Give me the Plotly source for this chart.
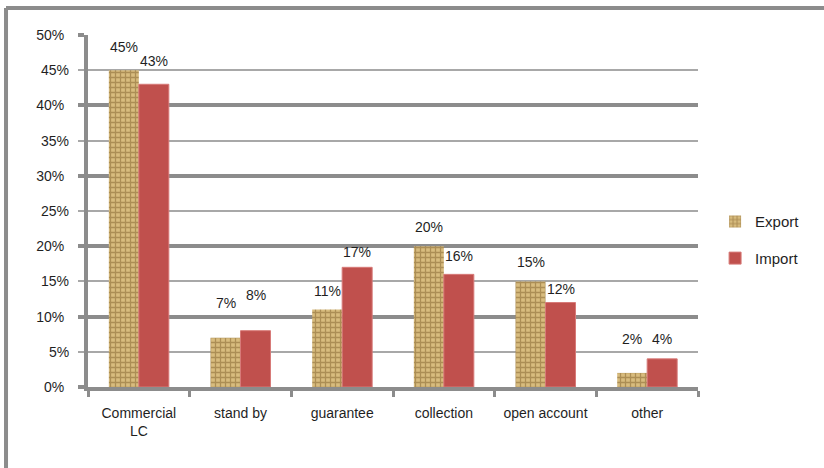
import plotly.graph_objects as go

# Share of trade finance instruments, export vs import
categories = ["Commercial<br>LC", "stand by", "guarantee", "collection", "open account", "other"]
export_share = [45, 7, 11, 20, 15, 2]
import_share = [43, 8, 17, 16, 12, 4]
y_ticks = [0, 5, 10, 15, 20, 25, 30, 35, 40, 45, 50]

# pixel lift of each value label above its bar top
export_label_lift = [23, 35, 19, 19, 19, 34]
import_label_lift = [23, 36, 15, 18, 14, 20]

FONT = "Liberation Sans Narrow, Arial Narrow, Liberation Sans, Arial, sans-serif"
GRID_DARK = "#8c8c8c"
GRID_LIGHT = "#a8a8a8"
TEXT = "#1f1f1f"
FS = 14

fig = go.Figure()

fig.add_trace(go.Bar(
    name="Export",
    x=categories,
    y=export_share,
    legendgroup="export",
    marker=dict(
        color="#d8bc7e",
        line=dict(width=0),
        pattern=dict(shape="+", fgcolor="#7f5f2c", size=5, solidity=0.45),
    ),
))
fig.add_trace(go.Bar(
    name="Import",
    x=categories,
    y=import_share,
    legendgroup="import",
    marker=dict(color="#c0504d", line=dict(color="#d77a78", width=1)),
))

# value labels above each bar
for i, cat in enumerate(categories):
    fig.add_annotation(x=cat, y=export_share[i], xref="x", yref="y",
                       text=f"{export_share[i]}%", showarrow=False,
                       xshift=-15, yshift=export_label_lift[i],
                       font=dict(family=FONT, size=FS, color=TEXT))
    fig.add_annotation(x=cat, y=import_share[i], xref="x", yref="y",
                       text=f"{import_share[i]}%", showarrow=False,
                       xshift=15, yshift=import_label_lift[i],
                       font=dict(family=FONT, size=FS, color=TEXT))

# outer frame: top and left edges
frame = dict(color=GRID_DARK, width=4)
fig.add_shape(type="line", xref="paper", yref="paper",
              x0=-0.1344, x1=1.21, y0=1.0767, y1=1.0767, line=frame)
fig.add_shape(type="line", xref="paper", yref="paper",
              x0=-0.1344, x1=-0.1344, y0=1.0767, y1=-0.24, line=frame)

fig.update_layout(
    width=824, height=468,
    margin=dict(l=88, r=126, t=35, b=81, autoexpand=False),
    paper_bgcolor="white",
    plot_bgcolor="white",
    barmode="group",
    bargap=0.41,
    bargroupgap=0,
    font=dict(family=FONT, size=FS, color=TEXT),
    showlegend=True,
    legend=dict(
        x=1.028, y=0.418, xanchor="left", yanchor="middle",
        font=dict(family=FONT, size=15, color=TEXT),
        tracegroupgap=14,
        bgcolor="rgba(0,0,0,0)",
    ),
    xaxis=dict(
        type="category",
        automargin=False,
        tickangle=0,
        showline=True, linecolor=GRID_DARK, linewidth=4,
        ticks="outside", tickson="boundaries", ticklen=6, tickwidth=3,
        tickcolor=GRID_DARK,
        showgrid=False,
        ticklabelstandoff=10,
        tickfont=dict(family=FONT, size=FS, color=TEXT),
    ),
    yaxis=dict(
        range=[0, 50],
        automargin=False,
        tickvals=[v for v in y_ticks if v % 10 == 0],
        ticktext=[f"{v}%" for v in y_ticks if v % 10 == 0],
        showline=True, linecolor=GRID_DARK, linewidth=4,
        ticks="outside", ticklen=6, tickwidth=4, tickcolor=GRID_DARK,
        showgrid=True, gridcolor=GRID_DARK, gridwidth=3.5,
        zeroline=False,
        ticklabelstandoff=11,
        tickfont=dict(family=FONT, size=FS, color=TEXT),
        minor=dict(
            tickvals=[v for v in y_ticks if v % 10 != 0],
            ticks="outside", ticklen=6, tickwidth=1.5, tickcolor=GRID_LIGHT,
            showgrid=True, gridcolor=GRID_LIGHT, gridwidth=1.5,
        ),
    ),
)

# minor ticks carry their own labels
for v in y_ticks:
    if v % 10 != 0:
        fig.add_annotation(x=0, y=v, xref="paper", yref="y", text=f"{v}%",
                           showarrow=False, xanchor="right", xshift=-17,
                           font=dict(family=FONT, size=FS, color=TEXT))

fig.write_html("out.html")
